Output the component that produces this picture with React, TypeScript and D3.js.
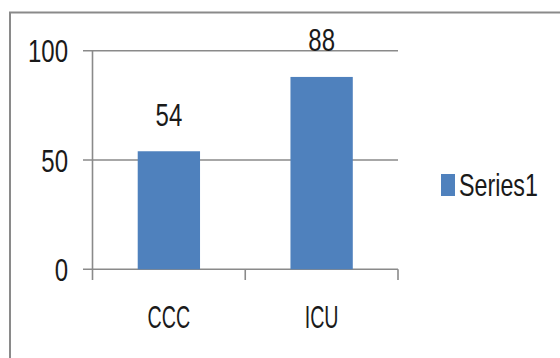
import React from "react";
import * as d3 from "d3";

const categories = ["CCC", "ICU"];
const values = [54, 88];
const yTicks = [0, 50, 100];
const seriesName = "Series1";

const W = 560;
const H = 358;
const FONT = "'Liberation Sans', Arial, sans-serif";
const SY = 1.28;

export default function App() {
  const x = d3
    .scaleBand<string>()
    .domain(categories)
    .range([92.5, 398])
    .paddingInner(0.592)
    .paddingOuter(0.296);
  const cat = d3.scaleBand<string>().domain(categories).range([92.5, 398]).padding(0);
  const y = d3.scaleLinear().domain([0, 100]).range([269.3, 50.7]);
  const grid = "#8a8a8a";
  const textColor = "#1a1a1a";
  const catEdges = [92.5, ...categories.map((c) => (cat(c) as number) + cat.bandwidth())];

  return (
    <svg
      width={W}
      height={H}
      style={{ position: "absolute", left: 0, top: 0, background: "#fff" }}
      fontFamily={FONT}
    >
      <rect x={10} y={12.5} width={700} height={500} fill="#fff" stroke={grid} strokeWidth={2} />
      {/* gridlines */}
      {yTicks.map((t) => (
        <g key={t}>
          <line x1={83} x2={398} y1={y(t)} y2={y(t)} stroke={grid} strokeWidth={1.6} />
          <g transform={`translate(68,${y(t) + 11.5}) scale(1,${SY})`}>
            <text textAnchor="end" fontSize={24} fill={textColor}>
              {t}
            </text>
          </g>
        </g>
      ))}
      {/* y axis */}
      <line x1={92.5} x2={92.5} y1={y(100)} y2={y(0)} stroke={grid} strokeWidth={1.6} />
      {/* category ticks */}
      {catEdges.map((e, i) => (
        <line key={i} x1={e} x2={e} y1={y(0)} y2={280} stroke={grid} strokeWidth={1.6} />
      ))}
      {/* bars */}
      {categories.map((c, i) => (
        <rect
          key={c}
          x={x(c)}
          y={y(values[i])}
          width={x.bandwidth()}
          height={y(0) - y(values[i])}
          fill="#4F81BD"
        />
      ))}
      {/* data labels */}
      {categories.map((c, i) => (
        <g
          key={c + "l"}
          transform={`translate(${(x(c) as number) + x.bandwidth() / 2},${y(values[i]) - 25.5}) scale(1,${SY})`}
        >
          <text textAnchor="middle" fontSize={24} fill={textColor}>
            {values[i]}
          </text>
        </g>
      ))}
      {/* category labels */}
      {categories.map((c) => (
        <g
          key={c + "c"}
          transform={`translate(${(cat(c) as number) + cat.bandwidth() / 2},328) scale(0.82,${SY})`}
        >
          <text textAnchor="middle" fontSize={24} fill={textColor}>
            {c}
          </text>
        </g>
      ))}
      {/* legend */}
      <rect x={441} y={174} width={14} height={22} fill="#4F81BD" />
      <g transform={`translate(459,196) scale(0.97,${SY})`}>
        <text fontSize={24} fill={textColor}>
          {seriesName}
        </text>
      </g>
    </svg>
  );
}
